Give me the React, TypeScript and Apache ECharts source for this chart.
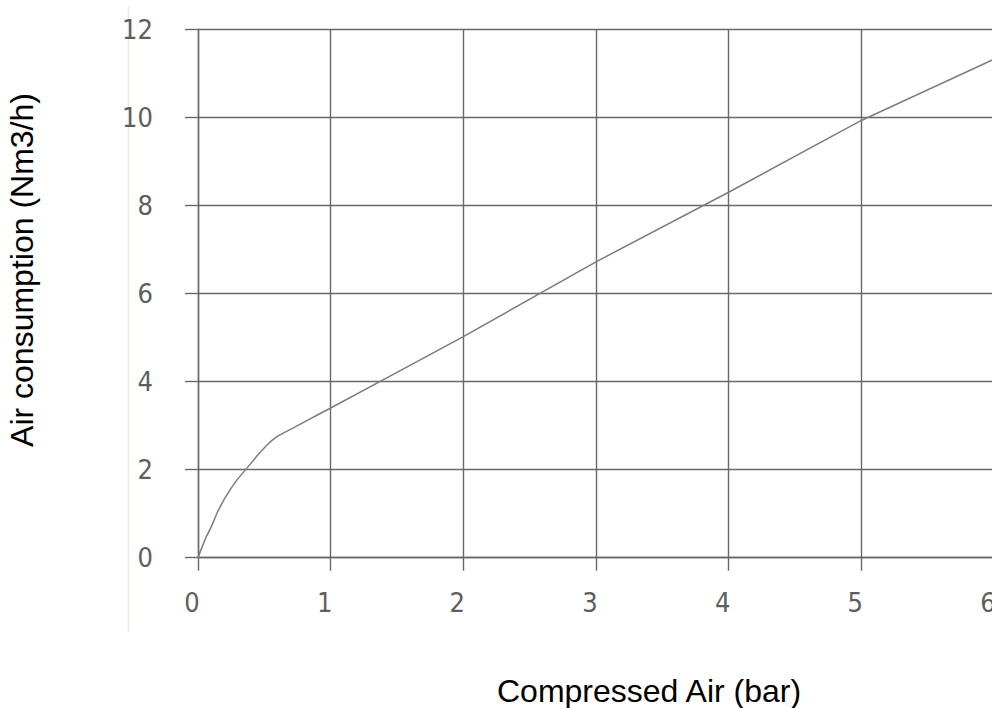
import React, { useEffect, useRef } from "react";
import * as echarts from "echarts";

const pressureBar = [0, 0.03, 0.06, 0.1, 0.15, 0.2, 0.25, 0.3, 0.37, 0.45, 0.52, 0.56, 0.6, 0.65, 0.7, 0.8, 0.9, 1, 1.5, 2, 3, 4, 5, 6];
const airConsumption = [0, 0.24, 0.46, 0.7, 1.06, 1.34, 1.58, 1.79, 2.04, 2.33, 2.56, 2.67, 2.76, 2.84, 2.92, 3.08, 3.24, 3.4, 4.21, 5.02, 6.72, 8.3, 9.93, 11.32];
const xTitle = "Compressed Air (bar)";
const yTitle = "Air consumption (Nm3/h)";

const GRID_COLOR = "#686868";
const LABEL_FONT = "'Liberation Sans Narrow', 'DejaVu Sans Condensed', 'Roboto', sans-serif";

export default function App() {
  const ref = useRef<HTMLDivElement>(null);
  useEffect(() => {
    if (!ref.current) return;
    const chart = echarts.init(ref.current, null, { renderer: "svg" });
    const lineStyle = { color: GRID_COLOR, width: 1.4 };
    chart.setOption({
      animation: false,
      backgroundColor: "#ffffff",
      grid: {
        left: 198,
        top: 29.3,
        width: 796,
        height: 528.4,
        containLabel: false,
        outerBoundsMode: "none",
      },
      xAxis: {
        type: "value",
        min: 0,
        max: 6,
        interval: 1,
        axisLine: { show: true, lineStyle },
        axisTick: { show: true, length: 13, lineStyle },
        splitLine: { show: true, lineStyle },
        axisLabel: {
          margin: 31,
          fontSize: 27,
          fontFamily: LABEL_FONT,
          color: "#5e5e5e",
          padding: [0, 12, 0, 0],
          showMaxLabel: true,
        },
      },
      yAxis: {
        type: "value",
        min: 0,
        max: 12,
        interval: 2,
        axisLine: { show: true, lineStyle },
        axisTick: { show: true, length: 13, lineStyle },
        splitLine: { show: true, lineStyle },
        axisLabel: {
          margin: 45,
          fontSize: 27,
          fontFamily: LABEL_FONT,
          color: "#5e5e5e",
        },
      },
      graphic: [
        {
          type: "line",
          shape: { x1: 128.5, y1: 5, x2: 128.5, y2: 632 },
          style: { stroke: "#eeebe0", lineWidth: 1.5 },
          silent: true,
        },
        {
          type: "text",
          x: 497,
          y: 691,
          style: {
            text: xTitle,
            font: "32px 'Liberation Sans', Arial, sans-serif",
            fill: "#000000",
            align: "left",
            verticalAlign: "middle",
          },
        },
        {
          type: "text",
          x: 22,
          y: 270,
          rotation: Math.PI / 2,
          style: {
            text: yTitle,
            font: "32px 'Liberation Sans', Arial, sans-serif",
            fill: "#000000",
            align: "center",
            verticalAlign: "middle",
          },
        },
      ],
      series: [
        {
          type: "line",
          data: pressureBar.map((x, i) => [x, airConsumption[i]]),
          smooth: false,
          showSymbol: false,
          symbol: "none",
          lineStyle: { color: "#7c7c7c", width: 1.5 },
          clip: false,
        },
      ],
    });
    return () => chart.dispose();
  }, []);
  return (
    <div
      ref={ref}
      style={{ position: "fixed", left: 0, top: 0, width: 992, height: 708, background: "#fff" }}
    />
  );
}
